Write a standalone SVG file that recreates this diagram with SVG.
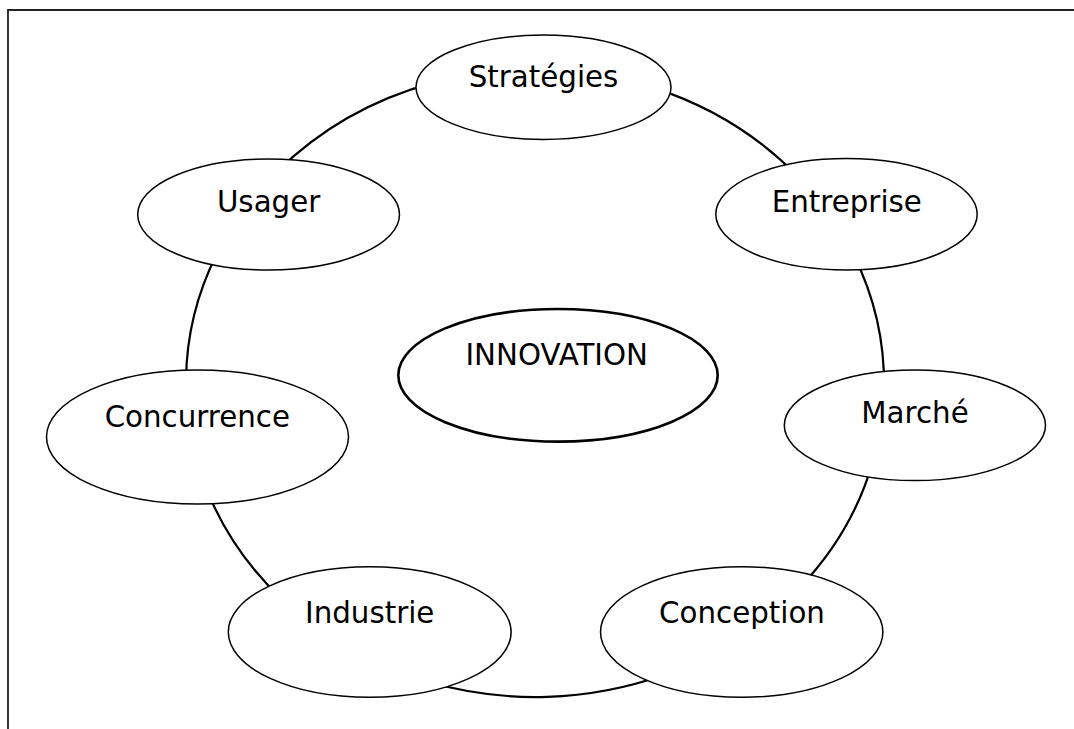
<svg xmlns="http://www.w3.org/2000/svg" width="1074" height="729" viewBox="0 0 1074 729">
<style>
  .frame { stroke: #222; stroke-width: 1.8; fill: none; }
  .ring { stroke: #000; stroke-width: 2.2; fill: none; }
  .node { stroke: #000; stroke-width: 1.5; fill: #fff; }
  .core { stroke: #000; stroke-width: 2.6; fill: #fff; }
  .lbl { font-family: "DejaVu Sans", Verdana, sans-serif; font-size: 29.3px; fill: #000; text-anchor: middle; }
</style>
<rect x="0" y="0" width="1074" height="729" fill="#fff"/>
<path class="frame" d="M8 729 V10 H1074"/>
<g id="connectors">
  <path class="ring" d="M276.5 172.1 A349 314 0 0 1 433.5 82.6"/>
  <path class="ring" d="M653.2 87.6 A349 314 0 0 1 798.4 177"/>
  <path class="ring" d="M853.8 255.3 A349 314 0 0 1 884 386.3"/>
  <path class="ring" d="M873 461.1 A349 314 0 0 1 800.8 586.5"/>
  <path class="ring" d="M663.5 675 A349 314 0 0 1 429.5 682.3"/>
  <path class="ring" d="M281.4 598.7 A349 314 0 0 1 206.4 488.8"/>
  <path class="ring" d="M186 379.7 A349 314 0 0 1 218.9 249.8"/>
</g>
<g id="node-strategies">
  <ellipse class="node" cx="543.5" cy="87.2" rx="127.5" ry="52.2"/>
  <text class="lbl" x="543.5" y="86.7">Stratégies</text>
</g>
<g id="node-usager">
  <ellipse class="node" cx="268.6" cy="214.5" rx="130.9" ry="55.5"/>
  <text class="lbl" x="268.6" y="211.7">Usager</text>
</g>
<g id="node-entreprise">
  <ellipse class="node" cx="846.5" cy="214.3" rx="130.7" ry="55.7"/>
  <text class="lbl" x="846.8" y="211.7">Entreprise</text>
</g>
<g id="node-innovation">
  <ellipse class="core" cx="558" cy="375.3" rx="159.7" ry="66.3"/>
  <text class="lbl" x="556.7" y="365">INNOVATION</text>
</g>
<g id="node-concurrence">
  <ellipse class="node" cx="197.5" cy="437" rx="151" ry="67"/>
  <text class="lbl" x="197.3" y="426.7">Concurrence</text>
</g>
<g id="node-marche">
  <ellipse class="node" cx="914.9" cy="425.3" rx="130.6" ry="55.3"/>
  <text class="lbl" x="915" y="422.7">Marché</text>
</g>
<g id="node-industrie">
  <ellipse class="node" cx="369.7" cy="632" rx="141.4" ry="65.3"/>
  <text class="lbl" x="369.7" y="623.3">Industrie</text>
</g>
<g id="node-conception">
  <ellipse class="node" cx="741.7" cy="632" rx="141.2" ry="65.3"/>
  <text class="lbl" x="742" y="623.3">Conception</text>
</g>
</svg>
